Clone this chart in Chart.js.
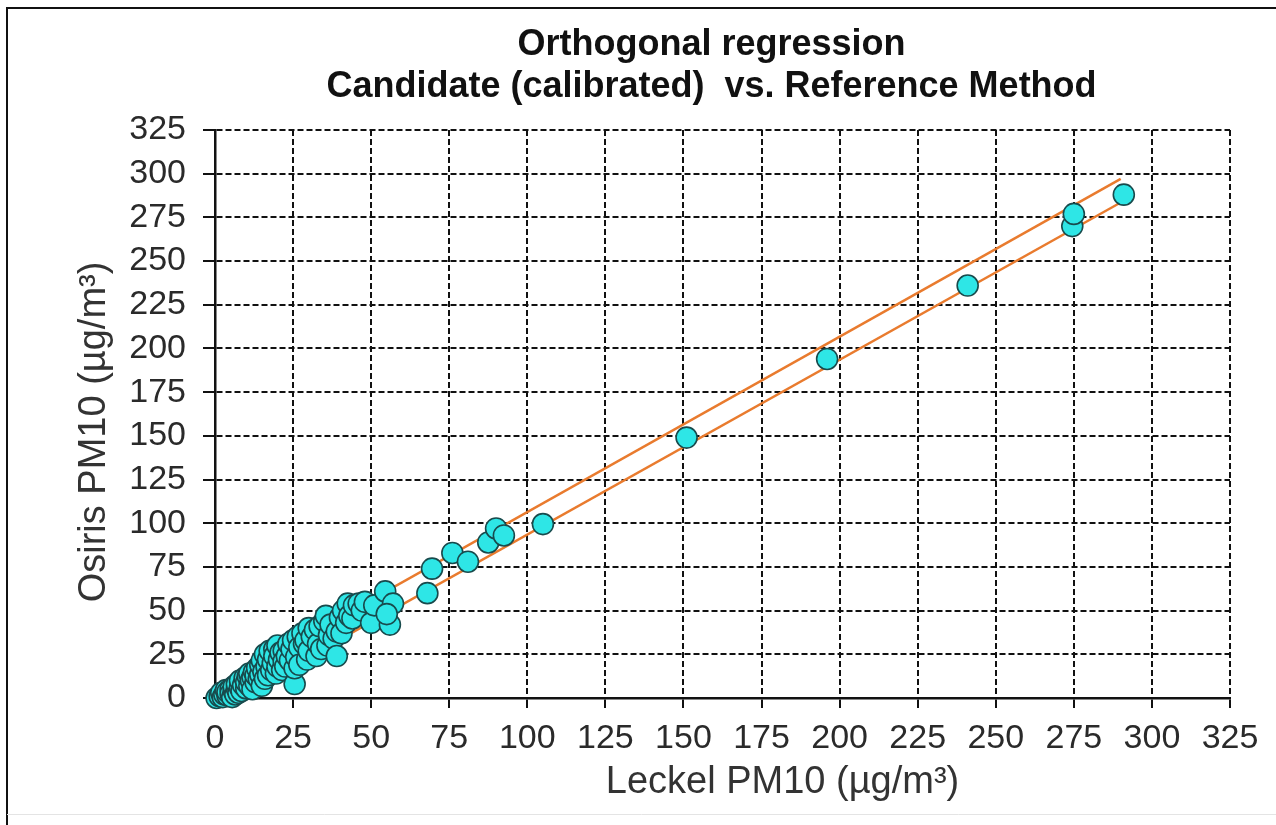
<!DOCTYPE html>
<html>
<head>
<meta charset="utf-8">
<script src="https://cdn.jsdelivr.net/npm/chart.js@4/dist/chart.umd.min.js"></script>
<style>
  html, body { margin: 0; padding: 0; background: #fff; }
  #wrap { width: 1276px; height: 825px; position: relative; }
</style>
</head>
<body>
<div id="wrap"><canvas id="c" width="1276" height="825"></canvas></div>
<script>
// ---- data ----
const titleLines = ['Orthogonal regression', 'Candidate (calibrated)  vs. Reference Method'];
const xAxisTitle = 'Leckel PM10 (µg/m³)';
const yAxisTitle = 'Osiris PM10 (µg/m³)';
const axisMin = 0;
const axisMax = 325;
const axisStep = 25;

const leckel = [
  0.5, 1.5, 2, 2.5, 3, 3.5, 4, 4, 5, 5, 5.5, 6, 6, 6.5, 7, 7, 7.5, 8, 8, 8.5,
  9, 9.5, 10, 10, 10.5, 11, 11, 11.5, 12, 12, 12.5, 13, 13, 13.5, 14, 14.5, 14.5, 15, 15, 15.5,
  16, 16, 16.5, 17, 17, 17.5, 18, 18.5, 19, 19, 19.5, 20, 20, 20.5, 21, 21.5, 22, 22, 22.5, 23,
  23.5, 24, 24.5, 25, 25.5, 25.5, 26, 26.5, 27, 27, 28, 28.5, 29, 29.5, 30, 30, 31, 32, 32.5, 33,
  33.5, 34, 35, 35.5, 36, 36.5, 37, 38, 39, 39, 40, 40.5, 41, 42, 42.5, 43, 44, 44.5, 46, 47,
  48, 50, 51, 54.5, 56, 57, 55,
  68, 69.5, 76, 81, 87.5, 90, 92.5, 105, 151, 196, 241, 274.5, 275, 291
];
const osiris = [
  0, 1, 3, 0.5, 2, 4.5, 1.5, 3.5, 5, 2.5, 0.5, 4, 6.5, 2, 5.5, 8, 3, 6, 10, 4,
  7.5, 11.5, 5.5, 9, 12.5, 7, 14, 10, 12, 5, 15, 9, 13, 17, 11, 13.5, 19, 7, 21.5, 15,
  11, 25, 18, 13, 22, 27, 16, 20, 28, 24, 14, 30, 18, 22, 26, 16, 27, 21, 18, 24,
  31, 21.5, 28, 33, 8, 17, 23.5, 35, 29, 19, 37, 31, 33, 22, 40, 27, 35, 39, 24, 31,
  41, 28, 44, 47, 30, 36, 42, 34, 24, 38, 46, 37, 50, 43, 54, 47, 45.5, 53, 54, 50,
  55, 43, 53, 61, 42, 54, 48,
  60, 74, 83, 78, 89, 97, 93, 99.5, 149, 194, 236, 270, 277, 288
];
// two orange reference lines (end points, in axis units)
const upperLineX = [0, 290];
const upperLineY = [6, 297];
const lowerLineX = [7, 291];
const lowerLineY = [0.5, 284.5];

// ---- build datasets ----
const pts = leckel.map((x, i) => ({ x: x, y: osiris[i] }));
const upper = upperLineX.map((x, i) => ({ x: x, y: upperLineY[i] }));
const lower = lowerLineX.map((x, i) => ({ x: x, y: lowerLineY[i] }));

const FONT = '"Liberation Sans", Arial, sans-serif';

const decor = {
  id: 'decor',
  beforeDraw(chart) {
    const ctx = chart.ctx;
    ctx.save();
    ctx.fillStyle = '#fff';
    ctx.fillRect(0, 0, chart.width, chart.height);
    ctx.strokeStyle = '#111';
    ctx.lineWidth = 2;
    ctx.beginPath();
    ctx.moveTo(7, 825);
    ctx.lineTo(7, 8);
    ctx.lineTo(1276, 8);
    ctx.stroke();
    ctx.strokeStyle = '#e4e4e4';
    ctx.lineWidth = 1;
    ctx.beginPath();
    ctx.moveTo(7, 814.5);
    ctx.lineTo(1276, 814.5);
    ctx.stroke();
    ctx.restore();
  },
  afterDraw(chart) {
    const ctx = chart.ctx;
    const a = chart.chartArea;
    ctx.save();
    ctx.fillStyle = '#111';
    ctx.textAlign = 'center';
    ctx.textBaseline = 'middle';
    ctx.font = 'bold 36px ' + FONT;
    const cx = (a.left + a.right) / 2 - 11;
    ctx.fillText(titleLines[0], cx, 45);
    ctx.fillText(titleLines[1], cx, 87);
    ctx.fillStyle = '#333';
    ctx.font = '38px ' + FONT;
    ctx.fillText(xAxisTitle, (a.left + a.right) / 2 + 60, 783);
    ctx.translate(95, (a.top + a.bottom) / 2 + 18);
    ctx.rotate(-Math.PI / 2);
    ctx.fillText(yAxisTitle, 0, 0);
    ctx.restore();
  }
};

const axisCommon = {
  type: 'linear',
  min: axisMin,
  max: axisMax,
  ticks: {
    stepSize: axisStep,
    color: '#2a2a2a',
    font: { family: FONT, size: 34 },
  },
  grid: {
    color: '#111',
    lineWidth: 2,
    drawTicks: true,
    tickColor: '#111',
    tickWidth: 2,
  },
  border: {
    display: true,
    color: '#111',
    width: 2.5,
    dash: [6, 3],
  },
  title: { display: false },
};

new Chart(document.getElementById('c'), {
  type: 'scatter',
  data: {
    datasets: [
      {
        label: 'Candidate vs Reference',
        data: pts,
        order: 0,
        clip: false,
        pointRadius: 10.5,
        pointHoverRadius: 10.5,
        backgroundColor: '#2ee6e6',
        borderColor: '#184a4c',
        borderWidth: 1.6,
        showLine: false,
      },
      {
        label: 'upper',
        data: upper,
        order: 1,
        showLine: true,
        pointRadius: 0,
        borderColor: '#e97b2e',
        borderWidth: 2.5,
        fill: false,
      },
      {
        label: 'lower',
        data: lower,
        order: 1,
        showLine: true,
        pointRadius: 0,
        borderColor: '#e97b2e',
        borderWidth: 2.5,
        fill: false,
      },
    ],
  },
  options: {
    responsive: false,
    devicePixelRatio: 1,
    animation: false,
    layout: { padding: { left: 20, right: 46, top: 130, bottom: 10 } },
    plugins: {
      legend: { display: false },
      title: { display: false },
      tooltip: { enabled: false },
    },
    scales: {
      x: Object.assign({}, axisCommon, {
        position: 'bottom',
        ticks: Object.assign({}, axisCommon.ticks, { padding: 10, maxRotation: 0, autoSkip: false }),
        grid: Object.assign({}, axisCommon.grid, { tickLength: 10 }),
        afterFit(s) { s.height = 117; },
      }),
      y: Object.assign({}, axisCommon, {
        position: 'left',
        ticks: Object.assign({}, axisCommon.ticks, { padding: 17, autoSkip: false }),
        grid: Object.assign({}, axisCommon.grid, { tickLength: 12 }),
        afterFit(s) { s.width = 195; },
      }),
    },
  },
  plugins: [decor],
});
</script>
</body>
</html>
